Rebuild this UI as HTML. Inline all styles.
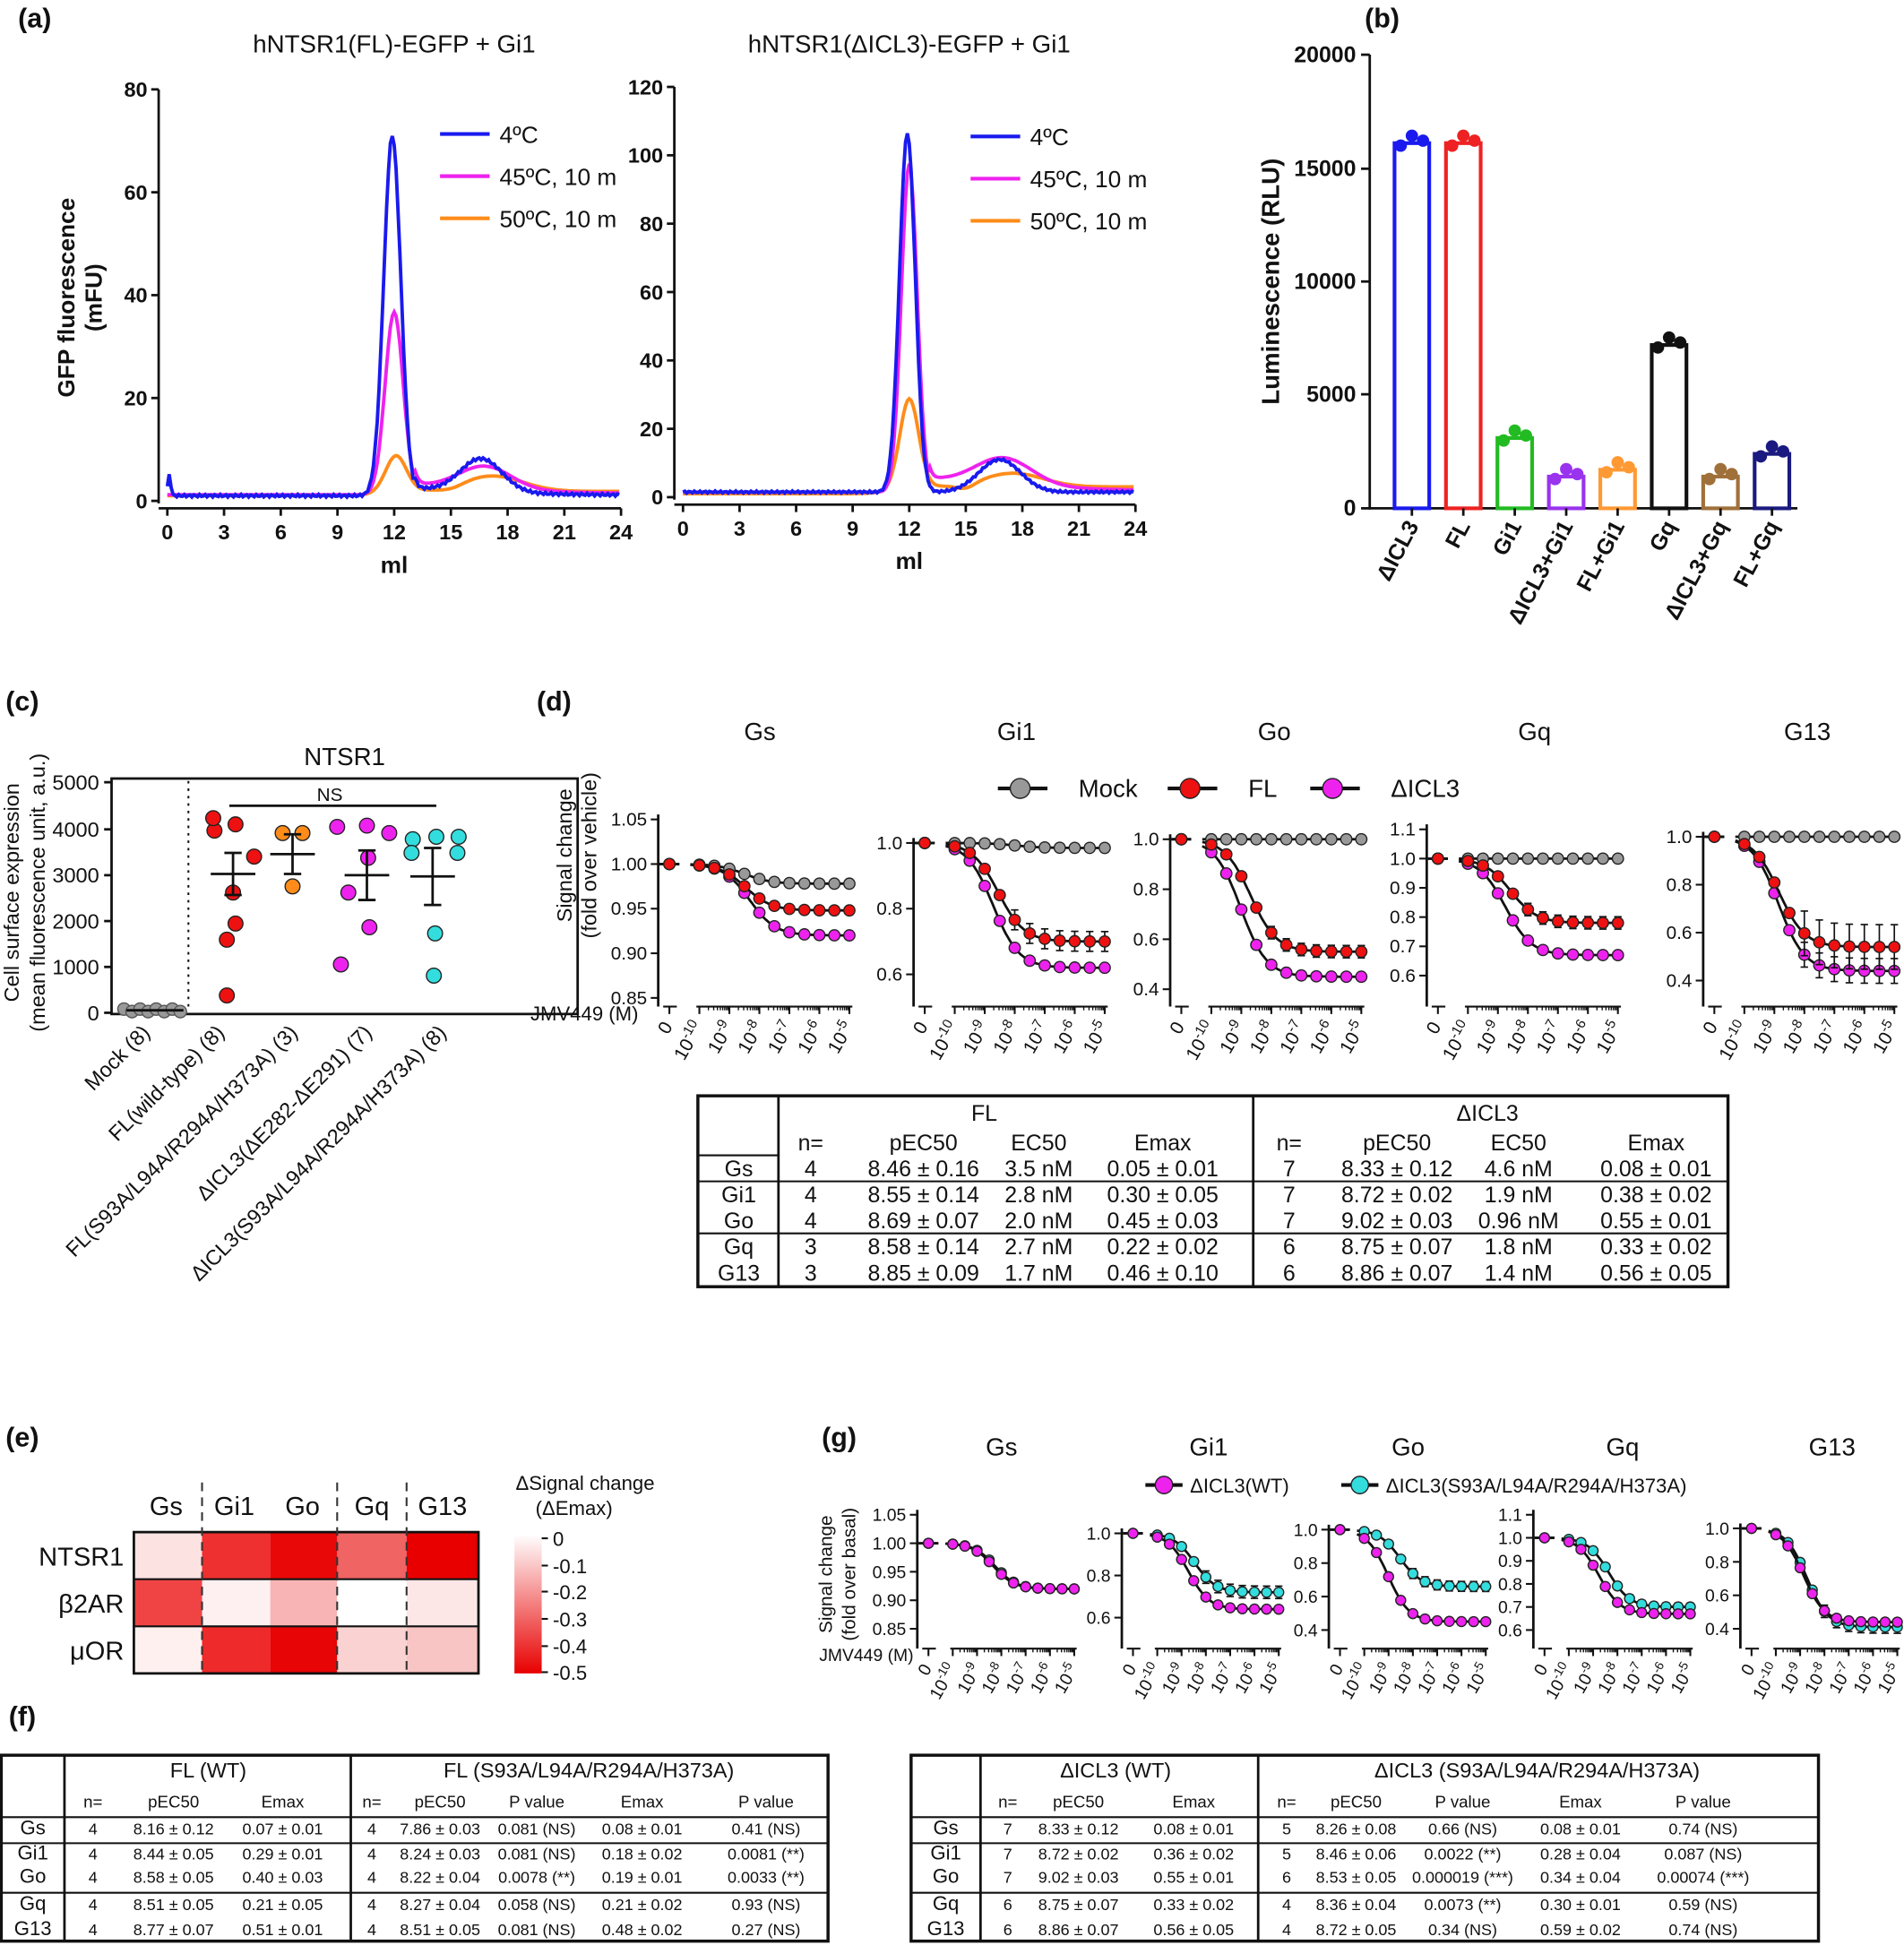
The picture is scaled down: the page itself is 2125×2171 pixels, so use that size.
<!DOCTYPE html>
<html><head><meta charset="utf-8"><style>
html,body{margin:0;padding:0;background:#fff}
svg{display:block}
text{font-family:"Liberation Sans",Arial,sans-serif;fill:#111}
</style></head><body>
<svg id="s" width="2125" height="2171" viewBox="0 0 1536 1569" xmlns="http://www.w3.org/2000/svg">
<g id="g"></g>
</svg>
<script>
var out=[];
function T(x,y,t,sz,an,w,rot,fill){sz=sz||17;an=an||'middle';
 var tr=rot?` transform="rotate(${rot} ${x} ${y})"`:'';
 out.push(`<text x="${x}" y="${y}" font-size="${sz}" text-anchor="${an}"${w?' font-weight="bold"':''}${fill?` style="fill:${fill}"`:''}${tr}>${t}</text>`);}
function L(x1,y1,x2,y2,c,w,d){out.push(`<line x1="${x1}" y1="${y1}" x2="${x2}" y2="${y2}" stroke="${c||'#111'}" stroke-width="${w||2}"${d?` stroke-dasharray="${d}"`:''}/>`);}
function R(x,y,w,h,f,s,sw){out.push(`<rect x="${x}" y="${y}" width="${w}" height="${h}" fill="${f||'none'}" stroke="${s||'none'}" stroke-width="${sw||2}"/>`);}
function C(x,y,r,f,s){out.push(`<circle cx="${x}" cy="${y}" r="${r}" fill="${f}" stroke="${s||'#222'}" stroke-width="1"/>`);}
function P(d,c,w){out.push(`<path d="${d}" fill="none" stroke="${c}" stroke-width="${w||2.5}"/>`);}
const g=(x,m,s)=>Math.exp(-(x-m)*(x-m)/(2*s*s));
// ---------- panel a ----------
T(28,22,'(a)',22,'middle',1);
function chrom(x0,x1,y0,ymax,ypx,title,tmax,tstep,curves){
 T((x0+x1)/2,42,title,20);
 L(x0-7,ypx,x0-7,y0+2);L(x0-7,y0+6,x1,y0+6);
 for(let v=0;v<=tmax;v+=tstep){let y=y0-(v/ymax)*(y0-ypx);L(x0-13,y,x0-7,y);T(x0-16,y+6,v,17,'end',1);}
 for(let m=0;m<=24;m+=3){let x=x0+m*(x1-x0)/24;L(x,y0+6,x,y0+12);T(x,y0+31,m,17,'middle',1);}
 T((x0+x1)/2,y0+58,'ml',19,'middle',1);
 curves.forEach(c=>{let d='';for(let m=0;m<=24;m+=0.1){let v=c.f(m);let x=x0+m*(x1-x0)/24,y=y0-(v/ymax)*(y0-ypx);d+=(m==0?'M':'L')+x.toFixed(1)+' '+y.toFixed(1);}P(d,c.c,2.8);});
}
const B='#1a1aee',M='#ee22ee',O='#ff8c1a';
chrom(135,501,404,80,72,'hNTSR1(FL)-EGFP + Gi1',80,20,[
 {c:O,f:m=>1+7*g(m,12.1,0.55)+0.85/(1+Math.exp(-(m-11)*2))+3*g(m,17.2,1.6)-0.6*g(m,15,0.6)},
 {c:M,f:m=>1.2+35.5*g(m,12,0.48)+4.5*g(m,16.8,1.4)+2*(m>13?Math.exp(-(m-13)/6):0)},
 {c:B,f:m=>1+4*g(m,0.1,0.08)+70*g(m,11.9,0.45)+6.5*g(m,16.6,1.1)+1.5*(m>13?Math.exp(-(m-13)/5):0)+0.25*Math.sin(m*23)}
]);
T(60,240,'GFP fluorescence',19,'middle',1,-90);T(82,240,'(mFU)',19,'middle',1,-90);
chrom(551,916,401,120,70,'hNTSR1(ΔICL3)-EGFP + Gi1',120,20,[
 {c:O,f:m=>1+26*g(m,12,0.5)+2/(1+Math.exp(-(m-11)*2))+4*g(m,17.5,1.6)-1.5*g(m,15,0.5)},
 {c:M,f:m=>1.5+96*g(m,12,0.42)+8*g(m,17,1.5)+4*(m>13?Math.exp(-(m-13)/6):0)},
 {c:B,f:m=>1.5+105*g(m,11.9,0.42)+9.5*g(m,16.8,1.1)+0.3*Math.sin(m*23)}
]);
function leg(x,y){[[B,'4ºC'],[M,'45ºC, 10 m'],[O,'50ºC, 10 m']].forEach((a,i)=>{L(x,y+i*34,x+40,y+i*34,a[0],3);T(x+48,y+7+i*34,a[1],19,'start');});}
leg(355,108);leg(783,110);
// ---------- panel b ----------
T(1115,22,'(b)',22,'middle',1);
L(1105,44,1105,411);L(1105,410,1450,410);
[[0,410],[5000,318],[10000,227],[15000,136],[20000,44]].forEach(a=>{L(1098,a[1],1105,a[1]);T(1094,a[1]+6,a[0],18,'end',1);});
T(1032,227,'Luminescence (RLU)',20,'middle',1,-90);
const bars=[['ΔICL3',16100,'#1a1aee'],['FL',16100,'#ee2222'],['Gi1',3100,'#22bb22'],['ΔICL3+Gi1',1400,'#9933ee'],['FL+Gi1',1700,'#ff9933'],['Gq',7200,'#111'],['ΔICL3+Gq',1400,'#a0703a'],['FL+Gq',2400,'#1a1a80']];
bars.forEach((b,i)=>{let cx=1139+i*41.5,y=410-b[1]*0.0183;R(cx-14,y,28,410-y,'none',b[2],3);
 L(cx,410,cx,416);T(cx+6,424,b[0],18,'end',1,-62);
 for(let k=-1;k<=1;k++){let yy=y+(k==0?-6:(k<0?2:-2));C(cx+k*9,yy,4.5,b[2],b[2]);}});
// ---------- panel c ----------
T(18,573,'(c)',22,'middle',1);
T(278,617,'NTSR1',20);
R(90,628,376,190,'none','#111',2);
[[0,817],[1000,780],[2000,743],[3000,706],[4000,669],[5000,631]].forEach(a=>{L(84,a[1],90,a[1]);T(80,a[1]+6,a[0],17,'end');});
T(15,720,'Cell surface expression',17,'middle',0,-90);T(36,720,'(mean fluorescence unit, a.u.)',17,'middle',0,-90);
L(152,630,152,816,'#111',1.5,'2,4');
L(185,650,352,650,'#111',2);T(266,646,'NS',15);
for(let i=0;i<8;i++)C(100+i*6.5,815+(i%2)*2-1,5,'#999','#555');
L(102,815,148,815,'#111',2);
function grp(pts,col,cx,mean,err){pts.forEach(p=>C(p[0],p[1],6,col));L(cx-18,mean,cx+18,mean,'#111',2);L(cx,mean-err,cx,mean+err,'#111',2);L(cx-7,mean-err,cx+7,mean-err);L(cx-7,mean+err,cx+7,mean+err);}
grp([[173,670],[190,665],[172,660],[205,691],[188,720],[190,745],[183,758],[183,803]],'#ee1111',188,705,17);
grp([[228,672],[244,672],[236,715]],'#ff8c1a',236,689,16);
grp([[272,667],[296,666],[314,672],[297,692],[281,720],[298,748],[275,778]],'#ee22ee',296,706,20);
grp([[333,677],[352,675],[370,675],[332,688],[369,688],[351,753],[350,787]],'#33dddd',349,707,23);
[['Mock (8)',122],['FL(wild-type) (8)',182],['FL(S93A/L94A/R294A/H373A) (3)',241],['ΔICL3(ΔE282-ΔE291) (7)',301],['ΔICL3(S93A/L94A/R294A/H373A) (8)',361]].forEach(a=>T(a[1],834,a[0],17,'end',0,-45));
// ---------- dose response ----------
function resp(s,l){return 1-s.e/(1+Math.pow(10,(-s.p-l)));}
function dr(zero,dec,yax,ymap,xay,ticks,series,fs){
 fs=fs||15;
 let ax=zero-9; L(ax,ymap(ticks[0][0])-4,ax,xay);
 ticks.forEach(t=>{let y=ymap(t[0]);L(ax-6,y,ax,y,'#111',1.5);T(ax-9,y+5,t[1],fs,'end');});
 let xm=zero+dec*0.9;
 L(zero-5,xay,zero+6,xay,'#111',1.5);L(zero,xay,zero,xay+6,'#111',1.5);
 L(xm,xay,zero+dec*6.1,xay,'#111',1.5);
 for(let e=-10;e<=-5;e++){let x=zero+dec*(e+11);L(x,xay,x,xay+6,'#111',1.5);
  T(x+4,xay+16,'10<tspan font-size="'+(fs-4)+'" dy="-6">'+e+'</tspan>',fs,'end',0,-60);
  for(let k=2;k<10;k++){let xx=x+dec*Math.log10(k);if(e<-5)L(xx,xay,xx,xay+3,'#111',1);}}
 T(zero+3,xay+16,'0',fs,'end',0,-60);
 series.forEach(s=>{let d='';for(let l=-10.3;l<=-4.9;l+=0.05){let v=resp(s,l);let x=zero+dec*(l+11),y=ymap(v);d+=(d?'L':'M')+x.toFixed(1)+' '+y.toFixed(1);}
  P('M'+(zero-8)+' '+ymap(1)+'L'+(zero+8)+' '+ymap(1),'#111',2);P(d,'#111',2);
  for(let l=-10;l<=-5;l+=0.5){let v=resp(s,l);let x=zero+dec*(l+11),y=ymap(v);if(s.eb&&l>-8.5){L(x,y-s.eb,x,y+s.eb,'#111',1.2);L(x-3,y-s.eb,x+3,y-s.eb,'#111',1.2);L(x-3,y+s.eb,x+3,y+s.eb,'#111',1.2);}C(x,y,s.r||4.5,s.c);}
  C(zero,ymap(1),s.r||4.5,s.c);});
}
const lin=(v1,y1,v2,y2)=>v=>y1+(v-v1)*(y2-y1)/(v2-v1);
T(447,573,'(d)',22,'middle',1);
[['Gs',613],['Gi1',820],['Go',1028],['Gq',1238],['G13',1458]].forEach(a=>T(a[1],597,a[0],20));
[[823,'#999','Mock'],[960,'#ee1111','FL'],[1075,'#ee22ee','ΔICL3']].forEach(a=>{L(a[0]-18,636,a[0]+22,636,'#111',3);C(a[0],636,8,a[1]);T(a[0]+47,643,a[2],20,'start');});
T(461,690,'Signal change',17,'middle',0,-90);T(481,690,'(fold over vehicle)',17,'middle',0,-90);
T(515,823,'JMV449 (M)',16,'end');
const GR='#999',RD='#ee1111',MG='#ee22ee',CY='#33dddd';
dr(540,24.2,0,lin(1.05,661,0.85,805),812,[[1.05,'1.05'],[1,'1.00'],[0.95,'0.95'],[0.9,'0.90'],[0.85,'0.85']],
 [{c:GR,e:0.022,p:8.5},{c:MG,e:0.08,p:8.33},{c:RD,e:0.052,p:8.46,eb:3}]);
dr(746,24.2,0,lin(1,680,0.6,786),812,[[1,'1.0'],[0.8,'0.8'],[0.6,'0.6']],
 [{c:GR,e:0.015,p:8},{c:MG,e:0.38,p:8.72},{c:RD,e:0.30,p:8.55,eb:8}]);
dr(953,24.2,0,lin(1,677,0.4,798),812,[[1,'1.0'],[0.8,'0.8'],[0.6,'0.6'],[0.4,'0.4']],
 [{c:GR,e:0.0,p:8},{c:MG,e:0.55,p:9.02},{c:RD,e:0.45,p:8.69,eb:5}]);
dr(1160,24.2,0,lin(1.1,669,0.6,787),812,[[1.1,'1.1'],[1,'1.0'],[0.9,'0.9'],[0.8,'0.8'],[0.7,'0.7'],[0.6,'0.6']],
 [{c:GR,e:0.0,p:8},{c:MG,e:0.33,p:8.75},{c:RD,e:0.22,p:8.58,eb:5}]);
dr(1383,24.2,0,lin(1,675,0.4,791),812,[[1,'1.0'],[0.8,'0.8'],[0.6,'0.6'],[0.4,'0.4']],
 [{c:GR,e:0.0,p:8},{c:MG,e:0.56,p:8.86,eb:10},{c:RD,e:0.46,p:8.85,eb:18}]);
// table d
R(563,884,831,154,'none','#111',2.5);L(628,884,628,1038);L(1011,884,1011,1038);
L(563,953,1394,953,'#111',1.5);L(563,995,1394,995,'#111',1.5);L(563,932,628,932,'#111',1.5);
T(794,904,'FL',18);T(1200,904,'ΔICL3',18);
const dh=[[654,'n='],[745,'pEC50'],[838,'EC50'],[938,'Emax'],[1040,'n='],[1127,'pEC50'],[1225,'EC50'],[1336,'Emax']];
dh.forEach(a=>T(a[0],928,a[1],18));
const drows=[['Gs','4','8.46 ± 0.16','3.5 nM','0.05 ± 0.01','7','8.33 ± 0.12','4.6 nM','0.08 ± 0.01'],
['Gi1','4','8.55 ± 0.14','2.8 nM','0.30 ± 0.05','7','8.72 ± 0.02','1.9 nM','0.38 ± 0.02'],
['Go','4','8.69 ± 0.07','2.0 nM','0.45 ± 0.03','7','9.02 ± 0.03','0.96 nM','0.55 ± 0.01'],
['Gq','3','8.58 ± 0.14','2.7 nM','0.22 ± 0.02','6','8.75 ± 0.07','1.8 nM','0.33 ± 0.02'],
['G13','3','8.85 ± 0.09','1.7 nM','0.46 ± 0.10','6','8.86 ± 0.07','1.4 nM','0.56 ± 0.05']];
drows.forEach((r,i)=>{let y=949+i*21;T(596,y,r[0],18);r.slice(1).forEach((c,j)=>T(dh[j][0],y,c,18));});
// ---------- panel e ----------
T(18,1167,'(e)',22,'middle',1);
const cols=[108,163,218,272,328,386],rows=[1236,1274,1312,1350];
const hm=[['#fde2e2','#ee3030','#e80808','#f06464','#e80000'],['#f04444','#fef0f0','#f8b4b4','#ffffff','#fde6e6'],['#fff0f0','#ee2a2a','#e80505','#fbd2d2','#f8c4c4']];
hm.forEach((r,i)=>r.forEach((c,j)=>R(cols[j],rows[i],cols[j+1]-cols[j],38,c)));
R(108,1236,278,114,'none','#111',2);L(108,1274,386,1274,'#111',1.5);L(108,1312,386,1312,'#111',1.5);
[163,272,328].forEach(x=>L(x,1196,x,1350,'#333',1.5,'7,5'));
[['Gs',134],['Gi1',189],['Go',244],['Gq',300],['G13',357]].forEach(a=>T(a[1],1222,a[0],21));
[['NTSR1',1263],['β2AR',1301],['μOR',1339]].forEach(a=>T(100,a[1],a[0],21,'end'));
out.push('<defs><linearGradient id="cb" x1="0" y1="0" x2="0" y2="1"><stop offset="0" stop-color="#fff"/><stop offset="1" stop-color="#e80000"/></linearGradient></defs>');
R(415,1238,22,112,'url(#cb)');
[[0,1241],[-0.1,1263],[-0.2,1284],[-0.3,1306],[-0.4,1328],[-0.5,1349]].forEach(a=>{L(437,a[1],442,a[1],'#111',1.5);T(446,a[1]+6,a[0],16,'start');});
T(416,1202,'ΔSignal change',16,'start');T(432,1222,'(ΔEmax)',16,'start');
// ---------- panel g ----------
T(677,1167,'(g)',22,'middle',1);
[['Gs',808],['Gi1',975],['Go',1136],['Gq',1309],['G13',1478]].forEach(a=>T(a[1],1174,a[0],20));
L(924,1198,954,1198,'#111',3);C(939,1198,7,MG);T(960,1204,'ΔICL3(WT)',16,'start');
L(1082,1198,1112,1198,'#111',3);C(1097,1198,7,CY);T(1118,1204,'ΔICL3(S93A/L94A/R294A/H373A)',16,'start');
T(671,1270,'Signal change',15,'middle',0,-90);T(690,1270,'(fold over basal)',15,'middle',0,-90);
T(737,1340,'JMV449 (M)',14,'end');
dr(749,19.6,0,lin(1.05,1222,0.85,1314),1330,[[1.05,'1.05'],[1,'1.00'],[0.95,'0.95'],[0.9,'0.90'],[0.85,'0.85']],
 [{c:CY,e:0.08,p:8.26,r:4},{c:MG,e:0.08,p:8.33,r:4}],14);
dr(914,19.6,0,lin(1,1237,0.6,1305),1330,[[1,'1.0'],[0.8,'0.8'],[0.6,'0.6']],
 [{c:CY,e:0.28,p:8.46,eb:5,r:4},{c:MG,e:0.36,p:8.72,r:4}],14);
dr(1081,19.6,0,lin(1,1234,0.4,1315),1330,[[1,'1.0'],[0.8,'0.8'],[0.6,'0.6'],[0.4,'0.4']],
 [{c:CY,e:0.34,p:8.53,eb:4,r:4},{c:MG,e:0.55,p:9.02,r:4}],14);
dr(1246,19.6,0,lin(1.1,1222,0.6,1315),1330,[[1.1,'1.1'],[1,'1.0'],[0.9,'0.9'],[0.8,'0.8'],[0.7,'0.7'],[0.6,'0.6']],
 [{c:CY,e:0.30,p:8.36,eb:3,r:4},{c:MG,e:0.33,p:8.75,r:4}],14);
dr(1413,19.6,0,lin(1,1233,0.4,1314),1330,[[1,'1.0'],[0.8,'0.8'],[0.6,'0.6'],[0.4,'0.4']],
 [{c:CY,e:0.59,p:8.72,eb:5,r:4},{c:MG,e:0.56,p:8.86,r:4}],14);
// ---------- panel f tables ----------
T(18,1392,'(f)',22,'middle',1);
function ftab(x0,x1,c1,c2,h1,h2,hx1,hx2,sub,rows){
 R(x0,1416,x1-x0,150,'none','#111',2.5);L(c1,1416,c1,1566);L(c2,1416,c2,1566);
 L(x0,1466,x1,1466,'#111',1.5);L(x0,1487,x1,1487,'#111',1.5);L(x0,1527,x1,1527,'#111',1.5);
 T(hx1,1434,h1,17);T(hx2,1434,h2,17);
 sub.forEach(a=>T(a[0],1458,a[1],13.5));
 rows.forEach((r,i)=>{let y=[1480,1500,1519,1541,1561][i];T((x0+c1)/2,y,r[0],16);r.slice(1).forEach((c,j)=>T(sub[j][0],y,c,13));});
}
ftab(1,668,52,283,'FL (WT)','FL (S93A/L94A/R294A/H373A)',168,475,
 [[75,'n='],[140,'pEC50'],[228,'Emax'],[300,'n='],[355,'pEC50'],[433,'P value'],[518,'Emax'],[618,'P value']],
 [['Gs','4','8.16 ± 0.12','0.07 ± 0.01','4','7.86 ± 0.03','0.081 (NS)','0.08 ± 0.01','0.41 (NS)'],
  ['Gi1','4','8.44 ± 0.05','0.29 ± 0.01','4','8.24 ± 0.03','0.081 (NS)','0.18 ± 0.02','0.0081 (**)'],
  ['Go','4','8.58 ± 0.05','0.40 ± 0.03','4','8.22 ± 0.04','0.0078 (**)','0.19 ± 0.01','0.0033 (**)'],
  ['Gq','4','8.51 ± 0.05','0.21 ± 0.05','4','8.27 ± 0.04','0.058 (NS)','0.21 ± 0.02','0.93 (NS)'],
  ['G13','4','8.77 ± 0.07','0.51 ± 0.01','4','8.51 ± 0.05','0.081 (NS)','0.48 ± 0.02','0.27 (NS)']]);
ftab(735,1467,791,1015,'ΔICL3 (WT)','ΔICL3 (S93A/L94A/R294A/H373A)',900,1240,
 [[813,'n='],[870,'pEC50'],[963,'Emax'],[1038,'n='],[1094,'pEC50'],[1180,'P value'],[1275,'Emax'],[1374,'P value']],
 [['Gs','7','8.33 ± 0.12','0.08 ± 0.01','5','8.26 ± 0.08','0.66 (NS)','0.08 ± 0.01','0.74 (NS)'],
  ['Gi1','7','8.72 ± 0.02','0.36 ± 0.02','5','8.46 ± 0.06','0.0022 (**)','0.28 ± 0.04','0.087 (NS)'],
  ['Go','7','9.02 ± 0.03','0.55 ± 0.01','6','8.53 ± 0.05','0.000019 (***)','0.34 ± 0.04','0.00074 (***)'],
  ['Gq','6','8.75 ± 0.07','0.33 ± 0.02','4','8.36 ± 0.04','0.0073 (**)','0.30 ± 0.01','0.59 (NS)'],
  ['G13','6','8.86 ± 0.07','0.56 ± 0.05','4','8.72 ± 0.05','0.34 (NS)','0.59 ± 0.02','0.74 (NS)']]);
document.getElementById('g').innerHTML=out.join('');
</script>
</body></html>
